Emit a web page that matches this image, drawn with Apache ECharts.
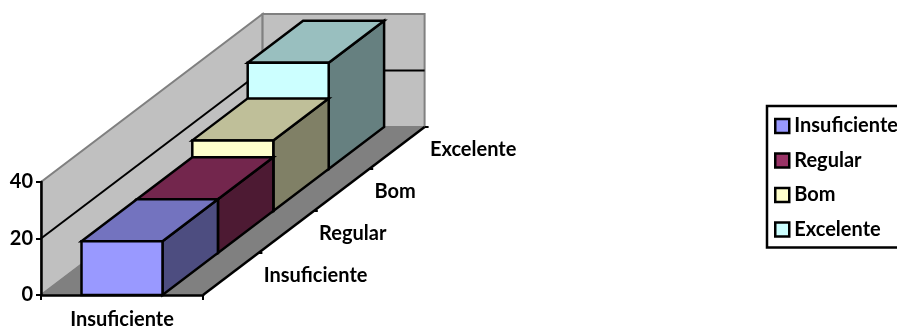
<!DOCTYPE html>
<html>
<head>
<meta charset="utf-8">
<title>Grafico</title>
<script src="https://cdn.jsdelivr.net/npm/echarts@6/dist/echarts.min.js"></script>
<style>
    html, body { margin: 0; padding: 0; background: #fff; }
    #chart { width: 897px; height: 327px; overflow: hidden; }
</style>
</head>
<body>
<div id="chart"></div>
<script>
    // dados
    var categories = ['Insuficiente'];
    var seriesNames = ['Insuficiente', 'Regular', 'Bom', 'Excelente'];
    var seriesValues = [19, 19, 25, 37.6];
    var yTicks = [0, 20, 40];

    // cores: frente, topo, lado
    var frontColors = ['#9999ff', '#993366', '#ffffcc', '#ccffff'];
    var topColors = ['#7373bf', '#73264d', '#bfbf99', '#99bfbf'];
    var sideColors = ['#4d4d80', '#4d1a33', '#808066', '#668080'];

    var FONT = 'Lato';
    var FONT_SIZE = 20;
    // deslocamento em perspectiva de cada fila de profundidade
    var depthX = 55.4;
    var depthY = -42;

    var chart = echarts.init(document.getElementById('chart'), null, { renderer: 'canvas' });

    function shift(p, layers) {
        return [p[0] + depthX * layers, p[1] + depthY * layers];
    }

    function poly(points, fill, stroke, width) {
        return {
            type: 'polygon',
            shape: { points: points },
            style: { fill: fill, stroke: stroke || null, lineWidth: width || 0, lineJoin: 'miter' }
        };
    }

    function line(a, b, color, width) {
        return {
            type: 'line',
            shape: { x1: a[0], y1: a[1], x2: b[0], y2: b[1] },
            style: { stroke: color, lineWidth: width }
        };
    }

    // paredes, chao, linhas de grade e eixo de profundidade
    function renderWalls(params, api) {
        var n = seriesNames.length;
        var band = api.size([1, 0])[0];
        var x0 = api.coord([0, 0])[0] - band / 2;
        var x1 = x0 + band;
        var yBottom = api.coord([0, yTicks[0]])[1];
        var yTop = api.coord([0, yTicks[yTicks.length - 1]])[1];
        var fl = [x0, yBottom], fr = [x1, yBottom], tl = [x0, yTop];
        var children = [
            poly([fl, tl, shift(tl, n), shift(fl, n)], '#c0c0c0', '#808080', 2),
            poly([shift(fl, n), shift(tl, n), [shift(fr, n)[0], shift(tl, n)[1]], shift(fr, n)], '#c0c0c0', '#808080', 2),
            poly([fl, fr, shift(fr, n), shift(fl, n)], '#808080', '#808080', 1)
        ];
        yTicks.forEach(function (t, i) {
            if (i === 0 || i === yTicks.length - 1) return;
            var y = api.coord([0, t])[1];
            var a = [x0, y];
            var b = shift(a, n);
            children.push(line(a, b, '#000', 2));
            children.push(line(b, [x1 + depthX * n, b[1]], '#000', 2));
        });
        children.push(line(fr, shift(fr, n), '#000', 2.5));
        for (var i = 1; i <= n; i++) {
            var p = shift(fr, i);
            children.push(line(p, [p[0] + 4, p[1]], '#000', 2));
        }
        return { type: 'group', children: children };
    }

    function renderBar(index) {
        return function (params, api) {
            var band = api.size([1, 0])[0];
            var base = api.coord([api.value(0), 0]);
            var top = api.coord([api.value(0), api.value(1)]);
            var w = band * 0.5;
            var bl = shift([base[0] - w / 2, base[1]], index);
            var br = shift([base[0] + w / 2, base[1]], index);
            var tl = shift([base[0] - w / 2, top[1]], index);
            var tr = shift([base[0] + w / 2, top[1]], index);
            return {
                type: 'group',
                children: [
                    poly([br, tr, shift(tr, 1), shift(br, 1)], sideColors[index], '#000', 2.5),
                    poly([tl, tr, shift(tr, 1), shift(tl, 1)], topColors[index], '#000', 2.5),
                    poly([bl, tl, tr, br], frontColors[index], '#000', 2.5)
                ]
            };
        };
    }

    // rotulos do eixo de profundidade
    function renderDepthLabels(params, api) {
        var band = api.size([1, 0])[0];
        var base = api.coord([0, 0]);
        var fr = [base[0] + band / 2, base[1]];
        return {
            type: 'group',
            children: seriesNames.map(function (name, i) {
                var p = shift(fr, i + 0.5);
                return {
                    type: 'text',
                    x: p[0] + 33,
                    y: p[1] + 2,
                    style: {
                        text: name,
                        fill: '#000',
                        font: 'bold ' + FONT_SIZE + 'px ' + FONT,
                        textAlign: 'left',
                        textVerticalAlign: 'middle'
                    }
                };
            })
        };
    }

    var series = [{
        type: 'custom',
        name: 'paredes',
        coordinateSystem: 'cartesian2d',
        renderItem: renderWalls,
        data: [[0, 0]],
        silent: true,
        z: 1
    }, {
        type: 'custom',
        name: 'rotulos',
        coordinateSystem: 'cartesian2d',
        renderItem: renderDepthLabels,
        data: [[0, 0]],
        silent: true,
        z: 1
    }];

    seriesNames.forEach(function (name, i) {
        series.push({
            type: 'custom',
            name: name,
            coordinateSystem: 'cartesian2d',
            renderItem: renderBar(i),
            itemStyle: { color: frontColors[i] },
            data: [[0, seriesValues[i]]],
            silent: true,
            z: 10 - i
        });
    });

    var option = {
        animation: false,
        backgroundColor: '#fff',
        textStyle: { fontFamily: FONT },
        grid: { left: 41, top: 182, width: 162, height: 113, outerBoundsMode: 'none' },
        legend: {
            orient: 'vertical',
            left: 767,
            top: 106,
            padding: [10, 14, 8, 7],
            itemWidth: 14,
            itemHeight: 14,
            itemGap: 14.5,
            icon: 'rect',
            selectedMode: false,
            borderColor: '#000',
            borderWidth: 2.5,
            itemStyle: { borderColor: '#000', borderWidth: 2.5 },
            textStyle: { color: '#000', fontFamily: FONT, fontWeight: 'bold', fontSize: FONT_SIZE },
            data: seriesNames
        },
        xAxis: {
            type: 'category',
            data: categories,
            z: 20,
            axisLine: { lineStyle: { color: '#000', width: 2.5 } },
            axisTick: { show: true, length: 5, lineStyle: { color: '#000', width: 2 } },
            axisLabel: { color: '#000', fontWeight: 'bold', fontSize: FONT_SIZE, fontFamily: FONT, margin: 15 }
        },
        yAxis: {
            type: 'value',
            min: 0,
            max: 40,
            interval: 20,
            z: 20,
            splitLine: { show: false },
            axisLine: { show: true, lineStyle: { color: '#000', width: 2.5 } },
            axisTick: { show: true, length: 5, lineStyle: { color: '#000', width: 2 } },
            axisLabel: { color: '#000', fontWeight: 'bold', fontSize: FONT_SIZE, fontFamily: FONT, margin: 8 }
        },
        series: series
    };

    chart.setOption(option);
</script>
</body>
</html>
